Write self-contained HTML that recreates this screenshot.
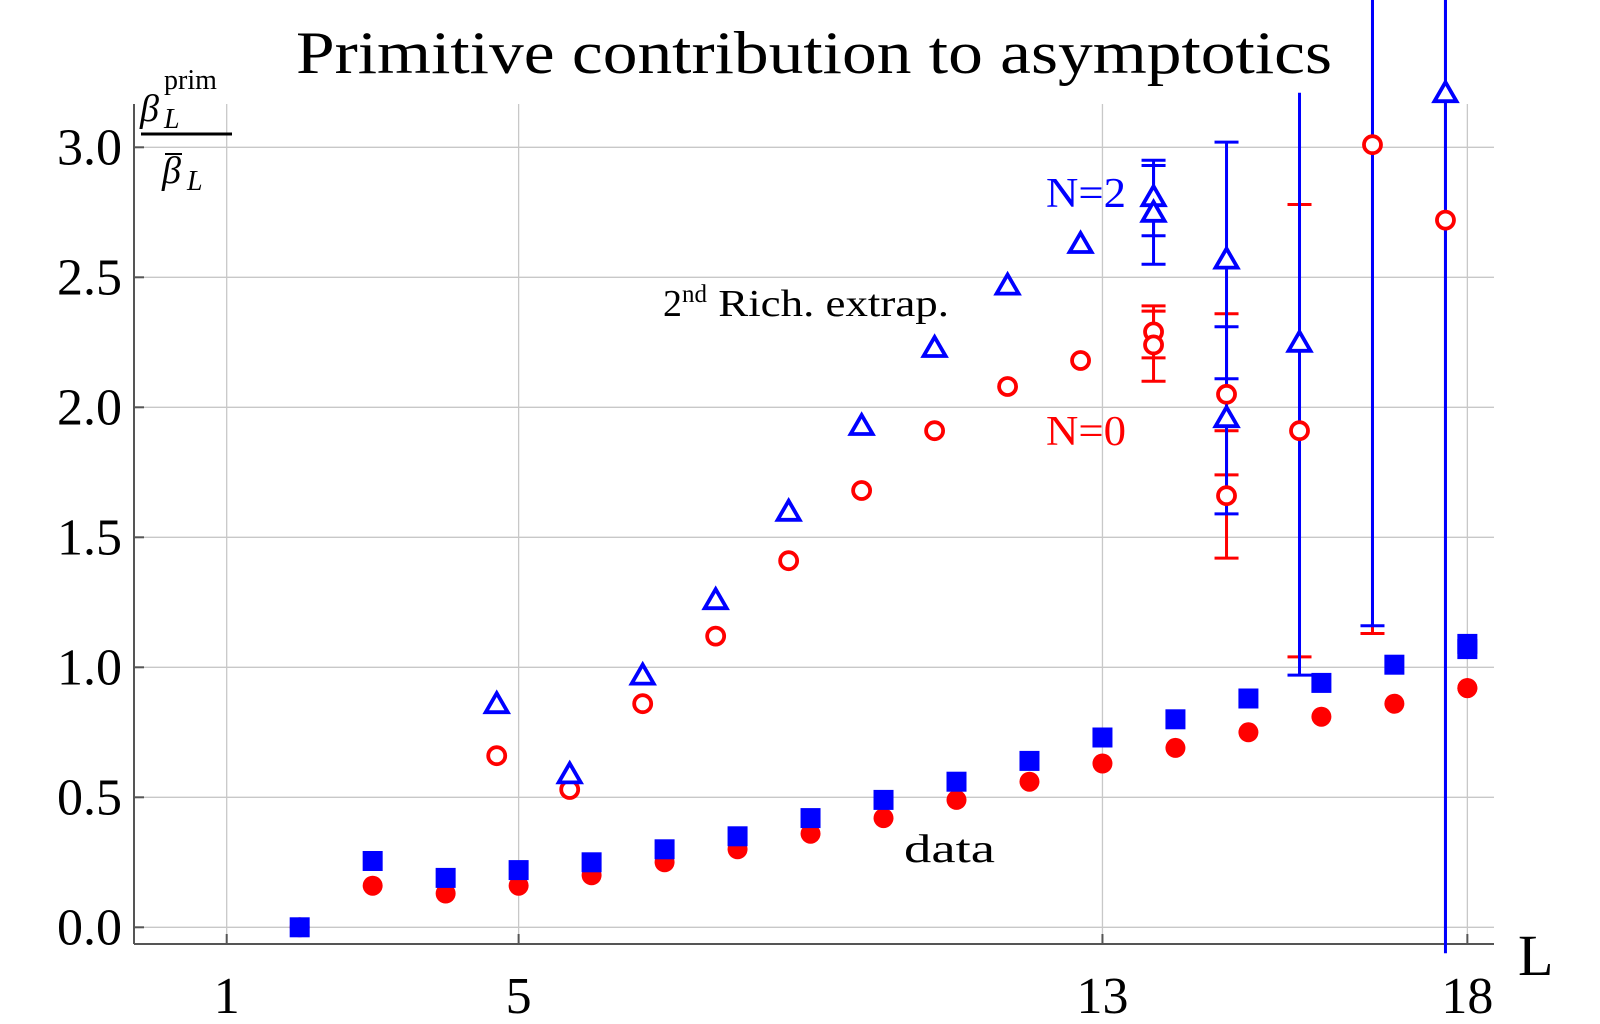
<!DOCTYPE html>
<html><head><meta charset="utf-8">
<style>
html,body{margin:0;padding:0;background:#fff;}
svg{display:block;font-family:"Liberation Serif","DejaVu Serif",serif;}
</style></head>
<body>
<svg id="chart" width="1600" height="1024" viewBox="0 0 1600 1024" xmlns="http://www.w3.org/2000/svg">
<text x="296" y="73" font-size="60" textLength="1036" lengthAdjust="spacingAndGlyphs" fill="#000">Primitive contribution to asymptotics</text>
<g id="grid"></g>
<g id="axes"></g>
<g id="marks"></g>
<g>
<text x="140" y="121" font-size="38" font-style="italic">β</text>
<text x="164" y="128" font-size="28" font-style="italic">L</text>
<text x="164" y="89" font-size="28">prim</text>
<line x1="141" y1="134" x2="232" y2="134" stroke="#000" stroke-width="3"/>
<line x1="165" y1="154" x2="182" y2="154" stroke="#000" stroke-width="2"/>
<text x="162" y="183" font-size="38" font-style="italic">β</text>
<text x="187" y="190" font-size="28" font-style="italic">L</text>
</g>
<text x="1518" y="975" font-size="58">L</text>
<text x="1046" y="207" font-size="42" textLength="80" lengthAdjust="spacingAndGlyphs" fill="#0000ff">N=2</text>
<text x="1046" y="445" font-size="42" textLength="80" lengthAdjust="spacingAndGlyphs" fill="#ff0000">N=0</text>
<text x="663" y="316" font-size="38">2<tspan font-size="25" dy="-14">nd</tspan><tspan dy="14" textLength="242" lengthAdjust="spacingAndGlyphs"> Rich. extrap.</tspan></text>
<text x="904" y="862" font-size="40" textLength="91" lengthAdjust="spacingAndGlyphs">data</text>
</svg>
<script>
const xTicks = [1, 5, 13, 18];
const yTicks = [0, 0.5, 1.0, 1.5, 2.0, 2.5, 3.0];
const yTickLabels = ["0.0","0.5","1.0","1.5","2.0","2.5","3.0"];
const dataL = [2,3,4,5,6,7,8,9,10,11,12,13,14,15,16,17,18,18];
const dataN2 = [0.0,0.255,0.19,0.22,0.25,0.30,0.35,0.42,0.49,0.56,0.64,0.73,0.80,0.88,0.94,1.01,1.09,1.07];
const dataN0 = [0.0,0.16,0.13,0.16,0.20,0.25,0.30,0.36,0.42,0.49,0.56,0.63,0.69,0.75,0.81,0.86,0.92,0.92];
const extL = [4.7,5.7,6.7,7.7,8.7,9.7,10.7,11.7,12.7];
const extN2 = [0.86,0.59,0.97,1.26,1.60,1.93,2.23,2.47,2.63];
const extN0 = [0.66,0.53,0.86,1.12,1.41,1.68,1.91,2.08,2.18];
const errL_N2 = [13.7,13.7,14.7,14.7,15.7,16.7,17.7];
const errN2 = [2.81,2.75,2.57,1.96,2.25,4.5,3.21];
const errN2Lo = [2.66,2.55,2.11,1.59,0.97,1.16,-0.10];
const errN2Hi = [2.95,2.93,3.02,2.31,3.21,7.8,6.5];
const errL_N0 = [13.7,13.7,14.7,14.7,15.7,16.7,17.7];
const errN0 = [2.29,2.24,2.05,1.66,1.91,3.01,2.72];
const errN0Lo = [2.19,2.10,1.74,1.42,1.04,1.13,-0.05];
const errN0Hi = [2.39,2.37,2.36,1.91,2.78,4.9,5.1];

const NS = "http://www.w3.org/2000/svg";
function X(v){ return 226.7 + (v-1)*72.98; }
function Y(v){ return 927.3 - v*260; }
function mk(tag, attrs, parent){
  const e = document.createElementNS(NS, tag);
  for (const k in attrs) e.setAttribute(k, attrs[k]);
  parent.appendChild(e); return e;
}
const gridG = document.getElementById('grid');
const axesG = document.getElementById('axes');
const marksG = document.getElementById('marks');
const plotLeft = 134, plotRight = 1494, plotTop = 104, plotBottom = 944;

yTicks.forEach((t,i)=>{
  const g = mk('line',{x1:plotLeft,x2:plotRight,y1:Y(t),y2:Y(t),stroke:'#c8c8c8','stroke-width':1.3},gridG);
  
  
  const tk = mk('line',{x1:plotLeft,x2:plotLeft+10,y1:Y(t),y2:Y(t),stroke:'#555','stroke-width':2},axesG);
  
  
  const lb = mk('text',{x:122,y:Y(t)+17,'font-size':52,'text-anchor':'end'},axesG);
  lb.textContent = yTickLabels[i];
  
  
});
xTicks.forEach(t=>{
  const g = mk('line',{x1:X(t),x2:X(t),y1:plotTop,y2:plotBottom,stroke:'#c8c8c8','stroke-width':1.3},gridG);
  
  
  const tk = mk('line',{x1:X(t),x2:X(t),y1:plotBottom,y2:plotBottom-10,stroke:'#555','stroke-width':2},axesG);
  
  
  const lb = mk('text',{x:X(t),y:1013,'font-size':52,'text-anchor':'middle'},axesG);
  lb.textContent = String(t);
  
  
});
const ax1 = mk('line',{x1:plotLeft,x2:plotLeft,y1:plotTop,y2:plotBottom,stroke:'#555','stroke-width':2},axesG);


const ax2 = mk('line',{x1:plotLeft,x2:plotRight,y1:plotBottom,y2:plotBottom,stroke:'#555','stroke-width':2},axesG);



function errbars(Ls, lo, hi, color, name){
  for (let i=0;i<Ls.length;i++){
    const x = X(Ls[i]);
    const l = mk('line',{x1:x,x2:x,y1:Y(lo[i]),y2:Y(hi[i]),stroke:color,'stroke-width':3},marksG);
    
    
    [lo[i],hi[i]].forEach(v=>{
      if (v > -0.04 && v < 3.2){
        const c = mk('line',{x1:x-12,x2:x+12,y1:Y(v),y2:Y(v),stroke:color,'stroke-width':3},marksG);
        
        
      }
    });
  }
}
errbars(errL_N0, errN0Lo, errN0Hi, '#ff0000', 'error-bar-n0');
errbars(errL_N2, errN2Lo, errN2Hi, '#0000ff', 'error-bar-n2');

function circleOpen(L, v){
  const c = mk('circle',{cx:X(L),cy:Y(v),r:8.5,fill:'#fff',stroke:'#ff0000','stroke-width':3.8},marksG);
  
  
}
function triOpen(L, v){
  const x = X(L), y = Y(v);
  const p = mk('polygon',{points:`${x-11},${y+8.5} ${x+11},${y+8.5} ${x},${y-10.5}`,fill:'#fff',stroke:'#0000ff','stroke-width':3.8},marksG);
  
  
}
for (let i=0;i<extL.length;i++){ circleOpen(extL[i], extN0[i]); }
for (let i=0;i<errL_N0.length;i++){ circleOpen(errL_N0[i], errN0[i]); }
for (let i=0;i<extL.length;i++){ triOpen(extL[i], extN2[i]); }
for (let i=0;i<errL_N2.length;i++){ triOpen(errL_N2[i], errN2[i]); }

for (let i=0;i<dataL.length;i++){
  const c = mk('circle',{cx:X(dataL[i]),cy:Y(dataN0[i]),r:10,fill:'#ff0000'},marksG);
  
  
}
for (let i=0;i<dataL.length;i++){
  const r = mk('rect',{x:X(dataL[i])-10,y:Y(dataN2[i])-10,width:20,height:20,fill:'#0000ff'},marksG);
  
  
}
</script>
</body></html>
